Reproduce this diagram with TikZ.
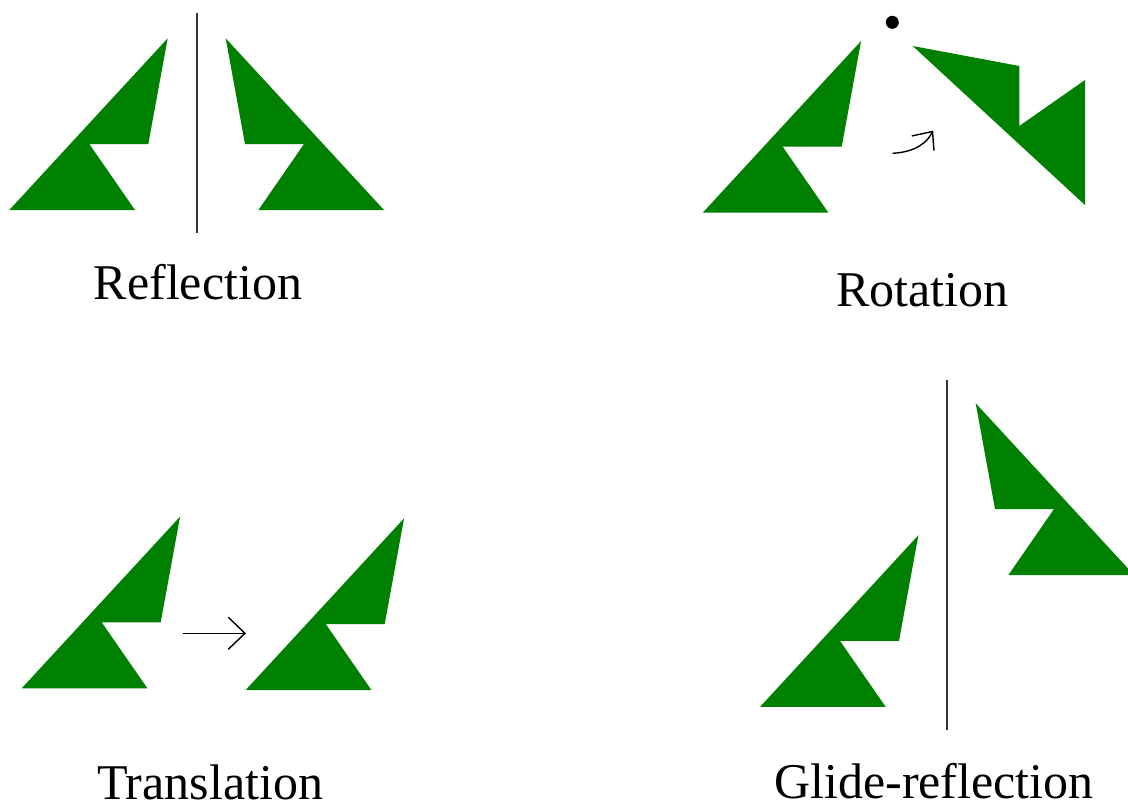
\documentclass[tikz,border=0pt]{standalone}
\usepackage{fontspec}
\setmainfont{Liberation Serif}
\definecolor{flaggreen}{RGB}{0,128,0}
\tikzset{
  flagL/.pic={\fill[flaggreen] (9.3,210) -- (167.7,38.3) -- (148.3,144) -- (89.3,144) -- (135,210) -- cycle;},
  flagR/.pic={\fill[flaggreen] (384,210) -- (225.7,38.3) -- (245,144) -- (304,144) -- (258.4,210) -- cycle;},
  axis/.style={draw=black!80, line width=1.8pt},
  thinarrow/.style={draw=black, line width=1.4pt},
  label/.style={anchor=base, inner sep=0pt, font=\fontsize{50}{60}\selectfont},
}
\begin{document}
\begin{tikzpicture}[x=1pt,y=-1pt]
\useasboundingbox (0,0) rectangle (1128,811);
\clip (0,0) rectangle (1128,811);
% Reflection
\pic at (0,0) {flagL};
\pic at (0,0) {flagR};
\coordinate (r1) at (196.7,13.3);
\coordinate (r2) at (196.7,233);
\draw[axis] (r1) -- (r2);
\node[label] (lref) at (198,299) {Reflection};
% Rotation
\pic at (693.4,2.7) {flagL};
\fill[flaggreen] (912.7,46) -- (1019.3,66) -- (1019.3,126) -- (1085,80) -- (1085,205) -- cycle;
\node[circle, fill=black, minimum size=13pt, inner sep=0pt] (centre) at (892.3,22.3) {};
\coordinate (ra) at (892.7,153.3);
\coordinate (rb) at (932.5,131.5);
\coordinate (rb1) at (911.7,136);
\coordinate (rb2) at (934,150.7);
\draw[thinarrow] (ra) .. controls (916,152) and (928,142) .. (rb);
\draw[thinarrow, line join=miter] (rb1) -- (rb) -- (rb2);
\node[label] (lrot) at (922.5,306) {Rotation};
% Translation
\pic at (12.4,478.3) {flagL};
\pic at (236.4,480) {flagL};
\coordinate (ta) at (182.7,633.3);
\coordinate (tb) at (245,633.3);
\coordinate (tb1) at (228.3,617.3);
\coordinate (tb2) at (228.3,649.3);
\draw[thinarrow] (ta) -- (tb);
\draw[thinarrow, line join=miter] (tb1) -- (tb) -- (tb2);
\node[label] (ltra) at (210,799) {Translation};
% Glide-reflection
\pic at (750.7,496.9) {flagL};
\pic at (750,365) {flagR};
\coordinate (g1) at (947.3,380);
\coordinate (g2) at (947.3,730);
\draw[axis] (g1) -- (g2);
\node[label] (lgli) at (934,798) {Glide-reflection};
\end{tikzpicture}
\end{document}
